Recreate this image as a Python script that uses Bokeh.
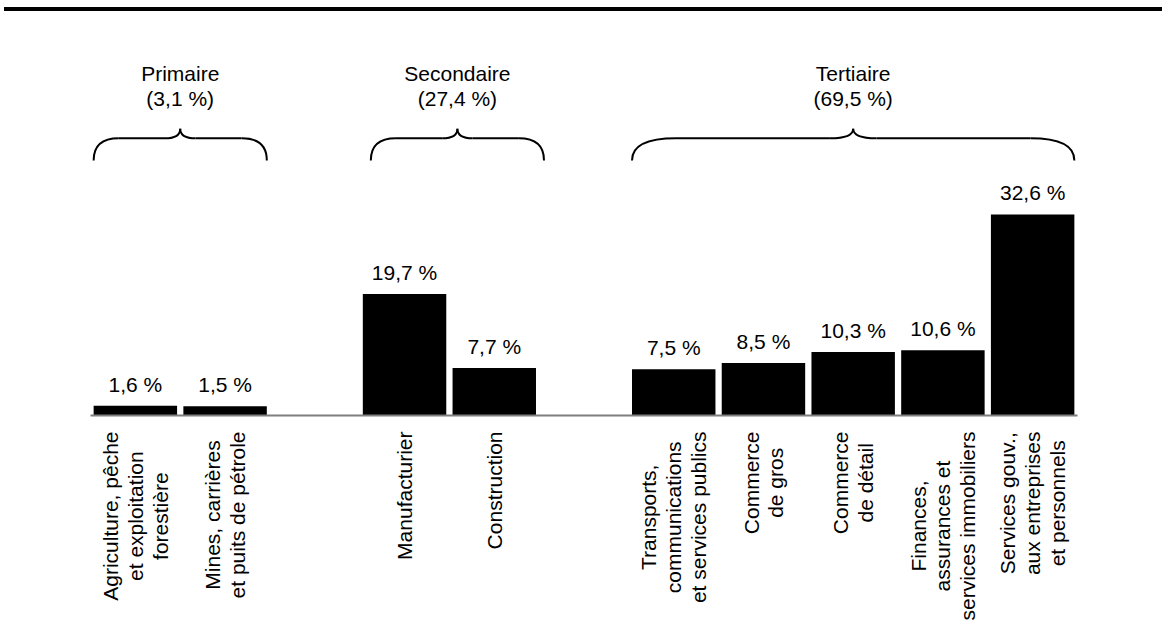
from bokeh.plotting import figure
from bokeh.models import ColumnDataSource, Range1d, Div
from bokeh.layouts import column
from bokeh.core.properties import value
from bokeh.embed import file_html
from bokeh.resources import INLINE

# ---- data ----
sectors = [
    "Agriculture, pêche\net exploitation\nforestière",
    "Mines, carrières\net puits de pétrole",
    "Manufacturier",
    "Construction",
    "Transports,\ncommunications\net services publics",
    "Commerce\nde gros",
    "Commerce\nde détail",
    "Finances,\nassurances et\nservices immobiliers",
    "Services gouv.,\naux entreprises\net personnels",
]
shares = [1.6, 1.5, 19.7, 7.7, 7.5, 8.5, 10.3, 10.6, 32.6]
slots = [0, 1, 3, 4, 6, 7, 8, 9, 10]
groups = ["Primaire", "Secondaire", "Tertiaire"]
group_shares = [3.1, 27.4, 69.5]
group_members = [[0, 1], [2, 3], [4, 5, 6, 7, 8]]

FONT = "Liberation Sans"
FS = "21px"


def fmt(v):
    return f"{v:.1f}".replace(".", ",") + " %"


PX_X = 987 / 11   # px per slot
PX_Y = 6.166      # px per percent
BAR_W = 0.93
W, H = 1160, 615
LEFT, BASE = 90, 404   # frame-relative px of slot -0.5 and of the zero line
BRACE_SHIFT_PX = [0, 8, 0]

x0 = -0.5 - LEFT / PX_X
y1 = BASE / PX_Y
p = figure(width=W, height=H,
           x_range=Range1d(x0, x0 + W / PX_X), y_range=Range1d(y1 - H / PX_Y, y1),
           output_backend="svg", toolbar_location=None,
           x_axis_location=None, y_axis_location=None, min_border=0)
p.outline_line_color = None
p.grid.visible = False
p.background_fill_color = "white"

src = ColumnDataSource(dict(x=slots, top=shares, lbl=[fmt(v) for v in shares], cat=sectors,
                            zero=[0] * len(slots)))
p.vbar(x="x", top="top", bottom=0, width=BAR_W, source=src, fill_color="black", line_color=None)
p.text(x="x", y="top", text="lbl", source=src, text_align="center", text_baseline="alphabetic",
       y_offset=-21.5, text_font=value(FONT), text_font_size=FS, text_color="black")

# baseline (category axis line)
p.segment(x0=[-0.5], y0=[0], x1=[10.5], y1=[0], line_color="#7f7f7f", line_width=2)

# category labels, rotated, lines centred, block ends just under the axis
p.text(x="x", y="zero", text="cat", source=src, angle=1.5708, anchor="center_right",
       text_align="center", y_offset=16, text_font=value(FONT), text_font_size=FS,
       text_color="black", text_line_height=1.08)

# ---- braces + group labels ----
Y_END, Y_H, Y_TIP = 41.36, 44.95, 46.5
q = dict(x0=[], y0=[], x1=[], y1=[], cx=[], cy=[])
sg = dict(x0=[], y0=[], x1=[], y1=[])
gl = dict(x=[], y=[], t=[])
for name, gs, mem, sh in zip(groups, group_shares, group_members, BRACE_SHIFT_PX):
    xl = slots[mem[0]] - BAR_W / 2 + sh / PX_X
    xr = slots[mem[-1]] + BAR_W / 2 + sh / PX_X
    xt = (xl + xr) / 2
    wpx = (xr - xl) * PX_X
    e = (0.07 * wpx + 13) / PX_X
    t = (0.03 * wpx + 10) / PX_X
    for (a0, b0, a1, b1, ca, cb) in [
        (xl, Y_END, xl + e, Y_H, xl, Y_H),
        (xt - t, Y_H, xt, Y_TIP, xt, Y_H),
        (xr, Y_END, xr - e, Y_H, xr, Y_H),
        (xt + t, Y_H, xt, Y_TIP, xt, Y_H),
    ]:
        q["x0"].append(a0); q["y0"].append(b0); q["x1"].append(a1); q["y1"].append(b1)
        q["cx"].append(ca); q["cy"].append(cb)
    for (a0, a1) in [(xl + e, xt - t), (xt + t, xr - e)]:
        sg["x0"].append(a0); sg["y0"].append(Y_H); sg["x1"].append(a1); sg["y1"].append(Y_H)
    gl["x"].append(xt); gl["y"].append(49.6); gl["t"].append(f"{name}\n({fmt(gs)})")

p.quadratic(x0="x0", y0="y0", x1="x1", y1="y1", cx="cx", cy="cy", source=ColumnDataSource(q),
            line_color="black", line_width=2)
p.segment(x0="x0", y0="y0", x1="x1", y1="y1", source=ColumnDataSource(sg), line_color="black", line_width=2)
p.text(x="x", y="y", text="t", source=ColumnDataSource(gl), text_align="center", text_baseline="bottom",
       text_font=value(FONT), text_font_size=FS, text_color="black", text_line_height=1.08)

top_rule = Div(width=1158, height=4, margin=(7, 0, 0, 4), styles={"background-color": "black"})
layout = column(top_rule, p, spacing=0)

open("out.html", "w").write(file_html(layout, INLINE))
